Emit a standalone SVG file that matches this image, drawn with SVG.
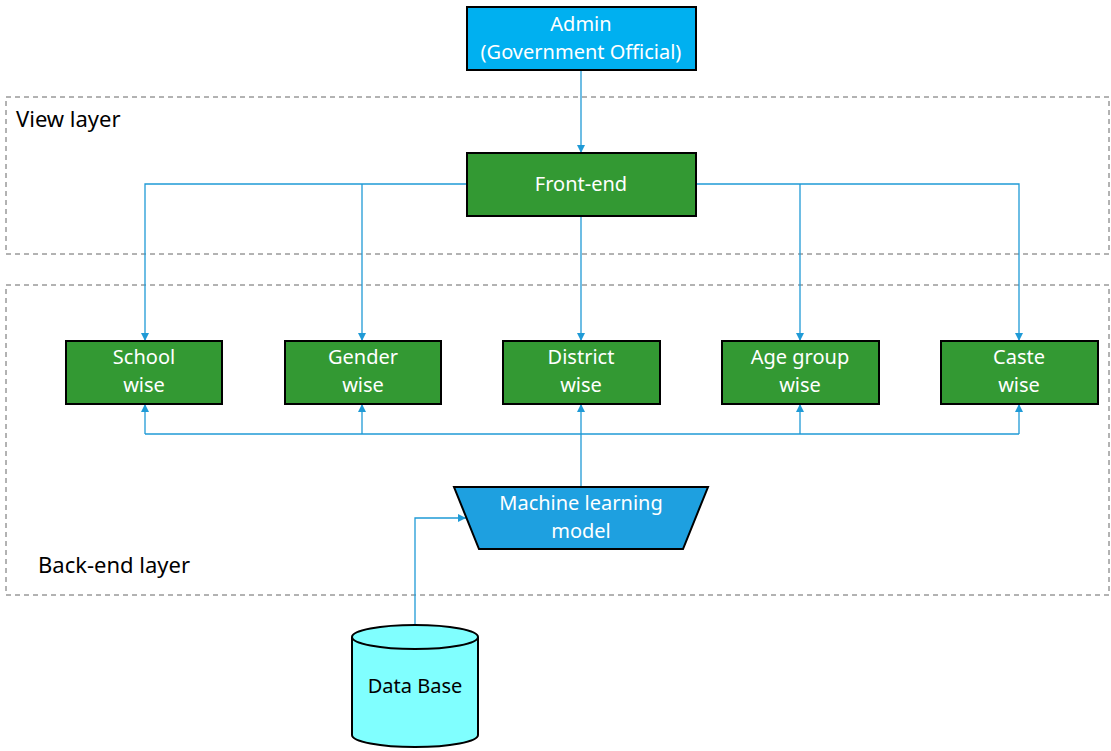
<svg xmlns="http://www.w3.org/2000/svg" width="1111" height="751" viewBox="0 0 1111 751">
<style>
text{font-family:"Noto Sans","Open Sans",sans-serif;font-size:20px;text-anchor:middle}
.w{fill:#fff}.b{fill:#000}
.box{stroke:#000;stroke-width:2}
.g{fill:#339933}
.layer{fill:none;stroke:#666;stroke-dasharray:5,4}
.c{fill:none;stroke:#1f9ad6;stroke-width:1.3}
</style>
<defs><marker id="a" viewBox="0 0 10 10" refX="10" refY="5" markerWidth="8" markerHeight="8" orient="auto" markerUnits="userSpaceOnUse"><path d="M0,0L10,5L0,10z" fill="#1f9ad6"/></marker></defs>
<rect class="layer" x="6" y="97" width="1103" height="157"/>
<text class="b" x="16" y="127" style="text-anchor:start;font-size:22px">View layer</text>
<rect class="layer" x="6" y="285" width="1103" height="310"/>
<text class="b" x="38" y="573" style="text-anchor:start;font-size:22px">Back-end layer</text>
<g id="connectors">
<path class="c" d="M581,70V153" marker-end="url(#a)"/>
<path class="c" d="M467,184H145V341" marker-end="url(#a)"/>
<path class="c" d="M362,184V341" marker-end="url(#a)"/>
<path class="c" d="M581,216V341" marker-end="url(#a)"/>
<path class="c" d="M696,184H1019V341" marker-end="url(#a)"/>
<path class="c" d="M800,184V341" marker-end="url(#a)"/>
<path class="c" d="M581,487V404" marker-end="url(#a)"/>
<path class="c" d="M145,434H1019"/>
<path class="c" d="M145,434V404" marker-end="url(#a)"/>
<path class="c" d="M362,434V404" marker-end="url(#a)"/>
<path class="c" d="M800,434V404" marker-end="url(#a)"/>
<path class="c" d="M1019,434V404" marker-end="url(#a)"/>
<path class="c" d="M415,625V518H466" marker-end="url(#a)"/>
</g>
<g id="admin"><rect class="box" x="467" y="7" width="229" height="63" fill="#00b0f0"/><text class="w" x="581" y="31">Admin</text><text class="w" x="581" y="59">(Government Official)</text></g>
<g id="frontend"><rect class="box g" x="467" y="153" width="229" height="63"/><text class="w" x="581" y="191">Front-end</text></g>
<g id="school"><rect class="box g" x="66" y="341" width="156" height="63"/><text class="w" x="144" y="364">School</text><text class="w" x="144" y="392">wise</text></g>
<g id="gender"><rect class="box g" x="285" y="341" width="156" height="63"/><text class="w" x="363" y="364">Gender</text><text class="w" x="363" y="392">wise</text></g>
<g id="district"><rect class="box g" x="503" y="341" width="157" height="63"/><text class="w" x="581" y="364">District</text><text class="w" x="581" y="392">wise</text></g>
<g id="age"><rect class="box g" x="722" y="341" width="157" height="63"/><text class="w" x="800" y="364">Age group</text><text class="w" x="800" y="392">wise</text></g>
<g id="caste"><rect class="box g" x="941" y="341" width="157" height="63"/><text class="w" x="1019" y="364">Caste</text><text class="w" x="1019" y="392">wise</text></g>
<g id="ml"><path class="box" d="M454,487H708L683,549H479Z" fill="#1ea0e0"/><text class="w" x="581" y="510">Machine learning</text><text class="w" x="581" y="538">model</text></g>
<g id="db"><path class="box" d="M352,637V735A63,12 0 0 0 478,735V637" fill="#80ffff"/><ellipse class="box" cx="415" cy="637" rx="63" ry="12" fill="#80ffff"/><text class="b" x="415" y="693">Data Base</text></g>
</svg>
